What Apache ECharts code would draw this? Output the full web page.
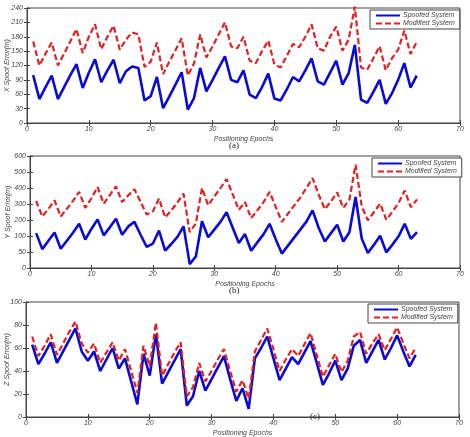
<!DOCTYPE html>
<html><head><meta charset="utf-8">
<script src="https://cdn.jsdelivr.net/npm/echarts@6/dist/echarts.min.js"></script>
<style>html,body{margin:0;padding:0;background:#fff}#c{width:470px;height:437px}</style>
</head><body><div id="c"></div>
<script>
const epochs = [1,2,3,4,5,6,7,8,9,10,11,12,13,14,15,16,17,18,19,20,21,22,23,24,25,26,27,28,29,30,31,32,33,34,35,36,37,38,39,40,41,42,43,44,45,46,47,48,49,50,51,52,53,54,55,56,57,58,59,60,61,62,63];
const seriesNames = ['Spoofed System', 'Modified System'];
const xSpoofed = [100,50,75,99,50,75,100,123,73,105,133,85,110,132,83,108,118,115,47,56,96,31,55,80,106,28,52,115,66,90,115,139,90,85,110,59,52,75,103,51,47,70,96,87,110,135,87,80,105,130,80,104,163,49,42,65,90,40,62,90,125,74,99];
const xModified = [170,120,145,168,120,145,170,196,146,180,206,154,180,203,153,174,189,185,117,128,168,102,128,152,177,99,124,185,137,160,185,210,160,156,180,130,125,150,172,122,116,140,165,158,180,206,156,151,180,201,151,174,243,116,111,135,160,110,135,153,193,144,169];
const ySpoofed = [109,59,85,111,60,85,110,138,89,122,152,102,127,154,104,130,144,104,66,76,117,54,75,97,130,12,36,146,96,120,144,174,126,78,106,54,80,105,138,90,45,70,95,120,145,180,125,83,109,135,83,112,222,92,47,73,101,49,73,99,138,91,112];
const yModified = [210,161,185,211,161,185,210,238,188,218,253,201,228,255,206,227,246,207,167,177,217,158,180,205,232,112,139,250,196,223,250,278,230,182,206,156,180,205,238,191,144,170,195,220,250,281,229,184,208,236,188,214,323,193,149,175,201,151,176,203,242,190,214];
const zSpoofed = [63,46,55,65,47,57,67,77,57,49,57,40,50,60,42,51,31,11,55,36,72,29,39,49,59,10,18,40,23,33,43,53,33,14,25,7,51,60,70,51,32,42,52,46,56,66,47,28,38,49,32,42,62,67,47,57,67,50,60,71,57,44,54];
const zModified = [70,53,62,72,54,64,74,83,64,56,64,47,56,65,49,59,40,21,62,44,82,36,46,56,65,18,26,47,31,40,50,59,40,22,32,16,57,67,77,59,40,50,59,53,63,73,54,35,45,55,39,49,70,74,55,64,72,58,68,78,64,51,60];
const xTicks = [0,10,20,30,40,50,60,70];
const yTicksA = [0,30,60,90,120,150,180,210,240];
const yTicksB = ['0','50','100','200','300','400','500','600'];
const yTicksC = [0,20,40,60,80,100];
const yNames = ['X Spoof Error(m)', 'Y Spoof Error(m)', 'Z Spoof Error(m)'];
const xName = 'Positioning Epochs';
const captions = ['(a)', '(b)', '(c)'];

const pair = arr => arr.map((v, i) => [epochs[i], v]);
const axisColor = '#444';
const labelFont = {fontFamily: 'Liberation Sans', fontStyle: 'italic', fontSize: 7, color: '#444'};

const grids = [
  {left: 27, right: 10, top: 8, height: 115},
  {left: 30, right: 10, top: 156, height: 112},
  {left: 26, right: 11, top: 302, height: 115}
];
const yCfg = [
  {min: 0, max: 240, interval: 30, fmt: v => String(v), nameGap: 16},
  {min: 0, max: 350, interval: 50, fmt: v => yTicksB[Math.round(v / 50)], nameGap: 18},
  {min: 0, max: 100, interval: 20, fmt: v => String(v), nameGap: 15}
];
const data = [[xSpoofed, xModified], [ySpoofed, yModified], [zSpoofed, zModified]];

const xAxis = [], yAxis = [], series = [], legend = [];
grids.forEach((g, i) => {
  g.show = true; g.borderColor = axisColor; g.borderWidth = 1; g.backgroundColor = '#fff';
  g.containLabel = false; g.outerBoundsMode = 'none';
  xAxis.push({gridIndex: i, type: 'value', min: xTicks[0], max: xTicks[xTicks.length - 1], interval: 10,
    position: 'bottom', name: xName, nameLocation: 'middle', nameGap: 13, nameMoveOverlap: false,
    nameTextStyle: labelFont,
    axisLine: {show: true, lineStyle: {color: axisColor, width: 1}},
    axisTick: {show: true, inside: true, length: 3, lineStyle: {color: axisColor}},
    axisLabel: Object.assign({margin: 3}, labelFont), splitLine: {show: false}});
  xAxis.push({gridIndex: i, type: 'value', min: xTicks[0], max: xTicks[xTicks.length - 1], interval: 10,
    position: 'top', axisLine: {show: true, lineStyle: {color: axisColor, width: 1}},
    axisTick: {show: true, inside: true, length: 3, lineStyle: {color: axisColor}},
    axisLabel: {show: false}, splitLine: {show: false}});
  const yc = yCfg[i];
  yAxis.push({gridIndex: i, type: 'value', min: yc.min, max: yc.max, interval: yc.interval, position: 'left',
    name: yNames[i], nameLocation: 'middle', nameGap: yc.nameGap, nameMoveOverlap: false, nameTextStyle: labelFont,
    axisLine: {show: true, lineStyle: {color: axisColor, width: 1}},
    axisTick: {show: true, inside: true, length: 3, lineStyle: {color: axisColor}},
    axisLabel: Object.assign({margin: 4, formatter: yc.fmt}, labelFont), splitLine: {show: false}});
  yAxis.push({gridIndex: i, type: 'value', min: yc.min, max: yc.max, interval: yc.interval, position: 'right',
    axisLine: {show: true, lineStyle: {color: axisColor, width: 1}},
    axisTick: {show: true, inside: true, length: 3, lineStyle: {color: axisColor}},
    axisLabel: {show: false}, splitLine: {show: false}});
  series.push({type: 'line', name: seriesNames[0], xAxisIndex: 2 * i, yAxisIndex: 2 * i,
    data: pair(data[i][0]), symbol: 'none', z: 3,
    lineStyle: {color: '#0a0ad8', width: 2.6, type: 'solid'}, itemStyle: {color: '#0a0ad8'}});
  series.push({type: 'line', name: seriesNames[1], xAxisIndex: 2 * i, yAxisIndex: 2 * i,
    data: pair(data[i][1]), symbol: 'none', z: 4, clip: false,
    lineStyle: {color: '#e02222', width: 2.2, type: [6, 3]}, itemStyle: {color: '#e02222'}});
});
const legendPos = [{left: 370, top: 10}, {left: 372, top: 158}, {left: 368, top: 304}];
legendPos.forEach(p => legend.push({
  left: p.left, top: p.top, orient: 'vertical', data: seriesNames, selectedMode: false,
  itemWidth: 24, itemHeight: 8, itemGap: 1, padding: [2, 5, 2, 5],
  borderColor: '#444', borderWidth: 1, backgroundColor: '#fff',
  itemStyle: {opacity: 0, borderWidth: 0},
  textStyle: {fontFamily: 'Liberation Sans', fontStyle: 'italic', fontSize: 7, color: '#444', padding: [0, 0, 0, -2]}
}));

const capPos = [{left: 229, top: 141}, {left: 229, top: 286}, {left: 310, top: 412}];
const graphic = captions.map((t, i) => ({type: 'text', left: capPos[i].left, top: capPos[i].top, z: 100,
  style: {text: t, font: '9px "Liberation Serif"', fill: '#222'}}));

const chart = echarts.init(document.getElementById('c'), null, {renderer: 'canvas'});
chart.setOption({backgroundColor: '#fff', animation: false, grid: grids, xAxis, yAxis, series, legend, graphic});
</script></body></html>
